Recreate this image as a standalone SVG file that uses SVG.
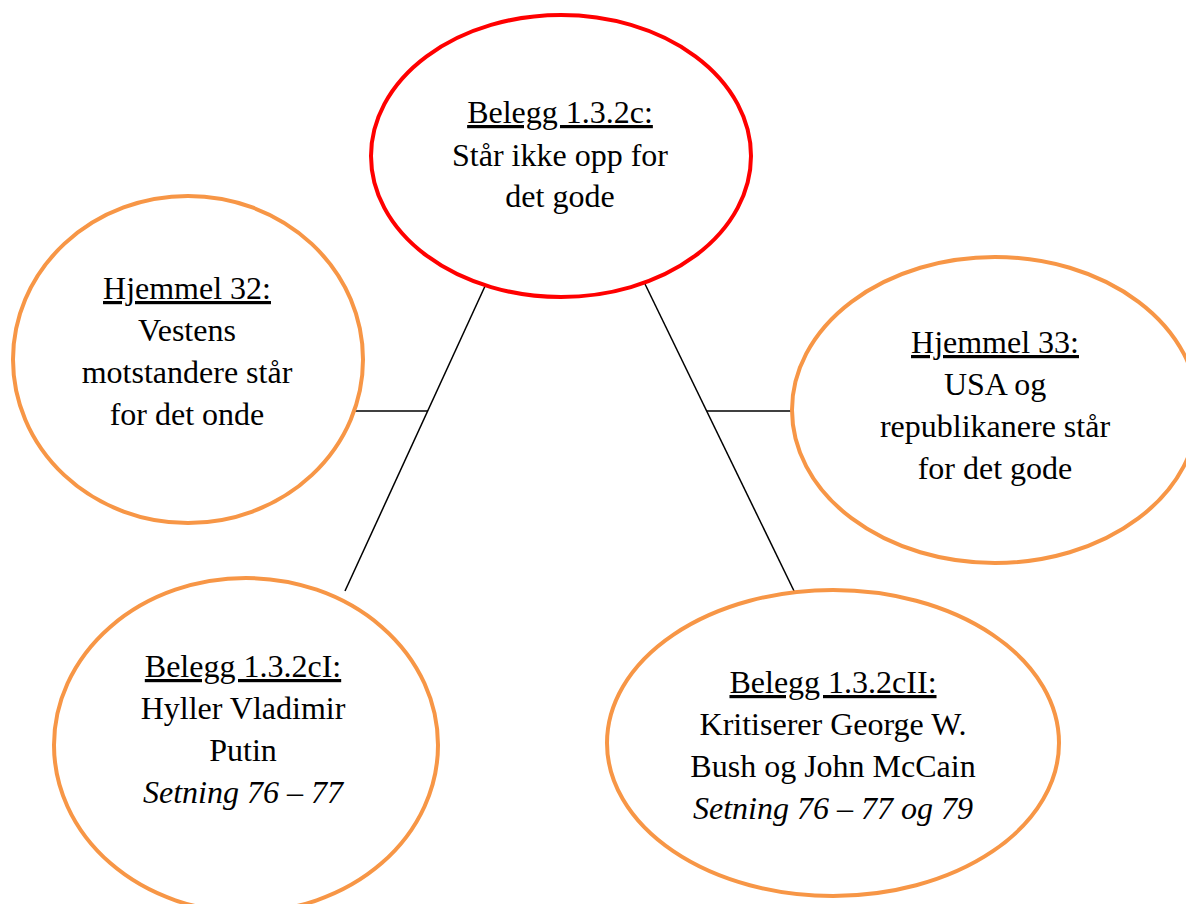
<svg xmlns="http://www.w3.org/2000/svg" width="1186" height="904" viewBox="0 0 1186 904">
<style>
.n{fill:#fff;stroke:#F79646;stroke-width:4}
.main{fill:#fff;stroke:#FF0000;stroke-width:4}
.t{font-family:"Liberation Serif","Times New Roman",serif;font-size:32px;fill:#000;text-anchor:middle}
.u{text-decoration:underline}
.i{font-style:italic}
.c{stroke:#000;stroke-width:1.5;fill:none}
</style>
<rect width="1186" height="904" fill="#fff"/>
<g id="connectors">
<line class="c" x1="486" y1="284" x2="345" y2="591"/>
<line class="c" x1="350" y1="411" x2="428" y2="411"/>
<line class="c" x1="645" y1="284" x2="795" y2="593"/>
<line class="c" x1="707" y1="411" x2="794" y2="411"/>
</g>
<g id="node-main">
<ellipse class="main" cx="561" cy="156" rx="190" ry="141"/>
<text class="t" x="560" y="123"><tspan class="u">Belegg 1.3.2c:</tspan></text>
<text class="t" x="560" y="166">Står ikke opp for</text>
<text class="t" x="560" y="207">det gode</text>
</g>
<g id="node-h32">
<ellipse class="n" cx="188" cy="359.5" rx="175" ry="163.5"/>
<text class="t" x="187" y="299"><tspan class="u">Hjemmel 32:</tspan></text>
<text class="t" x="187" y="341">Vestens</text>
<text class="t" x="187" y="383">motstandere står</text>
<text class="t" x="187" y="425">for det onde</text>
</g>
<g id="node-h33">
<ellipse class="n" cx="995" cy="410" rx="203" ry="153"/>
<text class="t" x="995" y="353"><tspan class="u">Hjemmel 33:</tspan></text>
<text class="t" x="995" y="395">USA og</text>
<text class="t" x="995" y="437">republikanere står</text>
<text class="t" x="995" y="479">for det gode</text>
</g>
<g id="node-b1">
<ellipse class="n" cx="246" cy="745" rx="192" ry="167"/>
<text class="t" x="243" y="677"><tspan class="u">Belegg 1.3.2cI:</tspan></text>
<text class="t" x="243" y="719">Hyller Vladimir</text>
<text class="t" x="243" y="761">Putin</text>
<text class="t i" x="243" y="803">Setning 76 – 77</text>
</g>
<g id="node-b2">
<ellipse class="n" cx="833" cy="743" rx="226" ry="153"/>
<text class="t" x="833" y="693"><tspan class="u">Belegg 1.3.2cII:</tspan></text>
<text class="t" x="833" y="735">Kritiserer George W.</text>
<text class="t" x="833" y="777">Bush og John McCain</text>
<text class="t i" x="833" y="819">Setning 76 – 77 og 79</text>
</g>
</svg>
